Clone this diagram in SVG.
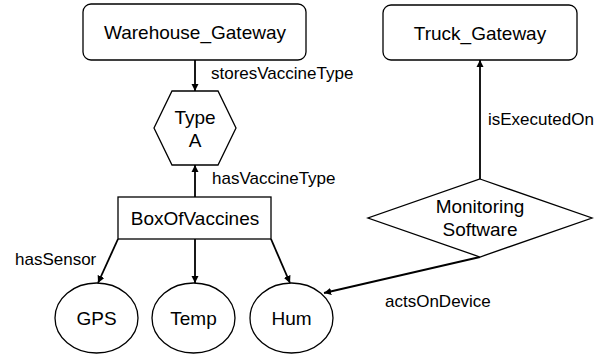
<svg xmlns="http://www.w3.org/2000/svg" width="608" height="357" viewBox="0 0 608 357">
<style>
.node{fill:#fff;stroke:#000;stroke-width:1.3}
.nt{font-family:"Liberation Sans",Arial,sans-serif;font-size:19px;fill:#000;text-anchor:middle}
.lb{font-family:"Liberation Sans",Arial,sans-serif;font-size:17px;fill:#000}
.edge{stroke:#000;stroke-width:1.8;fill:none}
</style>
<defs>
<marker id="ah" viewBox="0 0 10 10" refX="10" refY="5" markerWidth="4" markerHeight="4.5" orient="auto" markerUnits="strokeWidth">
<path d="M0,0 L10,5 L0,10 z" fill="#000"/>
</marker>
</defs>
<rect width="608" height="357" fill="#fff"/>
<g id="connectors">
<line class="edge" x1="195" y1="60" x2="195" y2="91" marker-end="url(#ah)"/>
<line class="edge" x1="195" y1="197" x2="195" y2="165" marker-end="url(#ah)"/>
<line class="edge" x1="118" y1="239" x2="98" y2="283" marker-end="url(#ah)"/>
<line class="edge" x1="195" y1="239" x2="195" y2="283" marker-end="url(#ah)"/>
<line class="edge" x1="271" y1="239" x2="290" y2="283" marker-end="url(#ah)"/>
<line class="edge" x1="480" y1="179" x2="480" y2="60" marker-end="url(#ah)"/>
<line class="edge" x1="480" y1="257" x2="324" y2="293" marker-end="url(#ah)"/>
<text class="lb" x="211" y="79">storesVaccineType</text>
<text class="lb" x="212" y="184">hasVaccineType</text>
<text class="lb" x="15" y="265">hasSensor</text>
<text class="lb" x="488" y="125">isExecutedOn</text>
<text class="lb" x="385" y="307">actsOnDevice</text>
</g>
<g id="Warehouse_Gateway">
<rect class="node" x="83" y="4" width="223" height="56" rx="8"/>
<text class="nt" x="195" y="39">Warehouse_Gateway</text>
</g>
<g id="Truck_Gateway">
<rect class="node" x="383" y="5" width="194" height="55" rx="8"/>
<text class="nt" x="480" y="40">Truck_Gateway</text>
</g>
<g id="TypeA">
<polygon class="node" points="154,128 172,91 218,91 236,128 218,165 172,165"/>
<text class="nt" x="195" y="124">Type</text>
<text class="nt" x="195" y="147">A</text>
</g>
<g id="BoxOfVaccines">
<rect class="node" x="118" y="197" width="153" height="42"/>
<text class="nt" x="195" y="225">BoxOfVaccines</text>
</g>
<g id="MonitoringSoftware">
<polygon class="node" points="480,179 592,218 480,257 368,218"/>
<text class="nt" x="480" y="213">Monitoring</text>
<text class="nt" x="480" y="236">Software</text>
</g>
<g id="GPS">
<ellipse class="node" cx="96.5" cy="318" rx="41.5" ry="35"/>
<text class="nt" x="96.5" y="325">GPS</text>
</g>
<g id="Temp">
<ellipse class="node" cx="193.5" cy="318" rx="41.5" ry="35"/>
<text class="nt" x="193.5" y="325">Temp</text>
</g>
<g id="Hum">
<ellipse class="node" cx="291.5" cy="318" rx="41.5" ry="35"/>
<text class="nt" x="291.5" y="325">Hum</text>
</g>
</svg>
